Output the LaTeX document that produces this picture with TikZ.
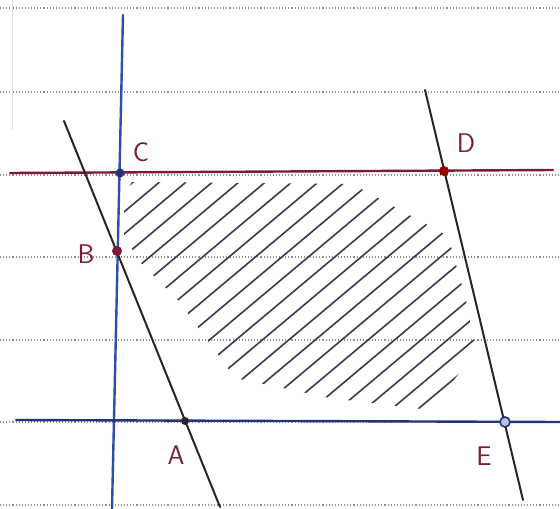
\documentclass[tikz,border=0pt]{standalone}
\begin{document}
\definecolor{ruleg}{HTML}{8E8E98}
\definecolor{vblue}{HTML}{2D4FA6}
\definecolor{hblue}{HTML}{25337A}
\definecolor{redl}{HTML}{7D1A35}
\definecolor{blk}{HTML}{2B2326}
\definecolor{hatchc}{HTML}{3A3A55}
\definecolor{lab}{HTML}{7A1F30}
\begin{tikzpicture}[x=1pt,y=-1pt,
  ruled/.style={ruleg, dotted, line width=1.1pt},
  mainline/.style={line width=2.4pt, line cap=round},
  hatch/.style={hatchc, line width=1.6pt, line cap=round},
  pt/.style={circle, inner sep=0pt, minimum size=#1},
  lbl/.style={lab, font=\fontsize{27}{27}\selectfont\sffamily, inner sep=0pt}]
\useasboundingbox (0,0) rectangle (560,509);
\fill[white] (0,0) rectangle (560,509);
% ruled paper
\foreach \yy in {8,92,175,257,340,422,505}
  \draw[ruled] (0,\yy) -- (560,\yy);
\draw[gray!25, line width=0.8pt] (12,0) -- (12,130);
% hatching
\begin{scope}
\clip (124,196) -- (132,182) -- (352,184) -- (448,236) -- (466,300) -- (476,352)
      -- (430,410) -- (330,398) -- (235,378) -- (178,300) -- (140,262) -- (124,236) -- cycle;
\foreach \t in {225,242,...,600}
  \draw[hatch] ({\t*0.643-400*0.766},{\t*0.766+400*0.643}) -- ({\t*0.643+400*0.766},{\t*0.766-400*0.643});
\end{scope}
% line end points
\coordinate (Vt) at (123,15);  \coordinate (Vb) at (112,509);
\coordinate (Rl) at (10,173);  \coordinate (Rr) at (553,170);
\coordinate (Hl) at (16,420);  \coordinate (Hr) at (560,422);
\coordinate (Lt) at (64,121);  \coordinate (Lb) at (220,507);
\coordinate (Mt) at (425,90);  \coordinate (Mb) at (523,500);
% lines
\draw[mainline, vblue] (Vt) -- (Vb);
\draw[mainline, hblue] (Hl) -- (Hr);
\draw[mainline, redl] (Rl) -- (Rr);
\draw[mainline, blk, line width=2pt] (Lt) -- (Lb);
\draw[mainline, blk, line width=2pt] (Mt) -- (Mb);
% points
\node[pt=9pt, fill=hblue] (C) at (120,173) {};
\node[pt=10pt, fill=redl] (B) at (117,251) {};
\node[pt=10pt, fill=red!60!black] (D) at (444,171) {};
\node[pt=8pt, fill=blk] (A) at (185,421) {};
\node[pt=10pt, draw=hblue, line width=1.6pt, fill=hblue!30] (E) at (505,422) {};
% labels
\node[lbl] (lC) at (141,152) {C};
\node[lbl] (lB) at (86,254) {B};
\node[lbl] (lD) at (466,143) {D};
\node[lbl] (lA) at (176,455) {A};
\node[lbl] (lE) at (484,456) {E};
\end{tikzpicture}
\end{document}
